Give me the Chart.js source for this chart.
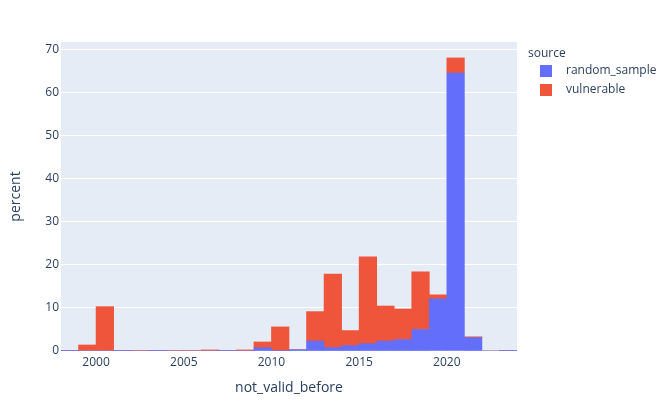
<!DOCTYPE html>
<html>
<head>
<meta charset="utf-8">
<script src="https://cdn.jsdelivr.net/npm/chart.js@4"></script>
<style>
html,body{margin:0;padding:0;background:#fff;}
#wrap{width:671px;height:404px;position:relative;}
</style>
</head>
<body>
<div id="wrap"><canvas id="c" width="671" height="404"></canvas></div>
<script>
// bin start years (each bin is one year wide)
const binStarts = [1998,1999,2000,2001,2002,2003,2004,2005,2006,2007,2008,2009,2010,2011,2012,2013,2014,2015,2016,2017,2018,2019,2020,2021,2022,2023];
const randomSample = [0.1,0,0,0.1,0,0.1,0,0,0,0.1,0,0.75,0.1,0.3,2.3,0.8,1.25,1.7,2.3,2.65,5.0,12.1,64.6,3.1,0,0.1];
const vulnerable   = [0,1.4,10.3,0,0.1,0,0.1,0.1,0.25,0,0.25,1.35,5.5,0,6.85,17.1,3.5,20.2,8.15,7.1,13.4,0.95,3.5,0.2,0,0];
const xTicks = [2000,2005,2010,2015,2020];
const yTicks = [0,10,20,30,40,50,60,70];
const seriesNames = ['random_sample','vulnerable'];
const seriesColors = ['#636EFA','#EF553B'];

const FONT = '"Open Sans", verdana, arial, sans-serif';
const TXT = '#2a3f5f';

function pts(vals){ return binStarts.map((b,i)=>({x:b+0.5, y:vals[i]})); }

const bgPlugin = {
  id:'bg',
  beforeDraw(chart){
    const {ctx, chartArea:a} = chart;
    ctx.save();
    ctx.fillStyle = '#E5ECF6';
    ctx.fillRect(a.left, a.top, a.right-a.left, a.bottom-a.top);
    ctx.restore();
  },
  afterDraw(chart){
    const {ctx, chartArea:a} = chart;
    ctx.save();
    ctx.fillStyle = TXT;
    ctx.font = '14px ' + FONT;
    ctx.textAlign = 'center';
    ctx.textBaseline = 'middle';
    ctx.fillText('not_valid_before', (a.left+a.right)/2, 388);
    ctx.save();
    ctx.translate(16, (a.top+a.bottom)/2);
    ctx.rotate(-Math.PI/2);
    ctx.fillText('percent', 0, 0);
    ctx.restore();
    ctx.font = '12px ' + FONT;
    ctx.textAlign = 'left';
    ctx.fillText('source', 528, 54);
    seriesNames.forEach((n,i)=>{
      const y = 71 + i*19;
      ctx.fillStyle = seriesColors[i];
      ctx.fillRect(540, y-6, 12, 12);
      ctx.fillStyle = TXT;
      ctx.fillText(n, 566, y);
    });
    ctx.restore();
  }
};

new Chart(document.getElementById('c'), {
  type:'bar',
  data:{
    datasets:[
      {label:seriesNames[0], data:pts(randomSample), backgroundColor:seriesColors[0], borderWidth:0, barPercentage:1, categoryPercentage:1},
      {label:seriesNames[1], data:pts(vulnerable), backgroundColor:seriesColors[1], borderWidth:0, barPercentage:1, categoryPercentage:1}
    ]
  },
  options:{
    responsive:false,
    animation:false,
    layout:{padding:{left:0, top:42, right:154, bottom:0}},
    plugins:{legend:{display:false}, tooltip:{enabled:false}},
    scales:{
      x:{
        type:'linear', stacked:true, min:1998, max:2024, offset:false,
        grid:{display:false, drawTicks:false, offset:false},
        border:{display:false},
        afterBuildTicks(s){ s.ticks = xTicks.map(v=>({value:v})); },
        afterFit(s){ s.height = 53; },
        ticks:{color:TXT, font:{family:FONT, size:12}, padding:4, autoSkip:false, maxRotation:0, callback:v=>String(v)}
      },
      y:{
        type:'linear', stacked:true, min:0, max:71.8,
        grid:{color:'#ffffff', lineWidth:1, drawTicks:false},
        border:{display:false},
        afterBuildTicks(s){ s.ticks = yTicks.map(v=>({value:v})); },
        afterFit(s){ s.width = 61; },
        ticks:{color:TXT, font:{family:FONT, size:12}, padding:2, callback:v=>String(v)}
      }
    }
  },
  plugins:[bgPlugin]
});
</script>
</body>
</html>
